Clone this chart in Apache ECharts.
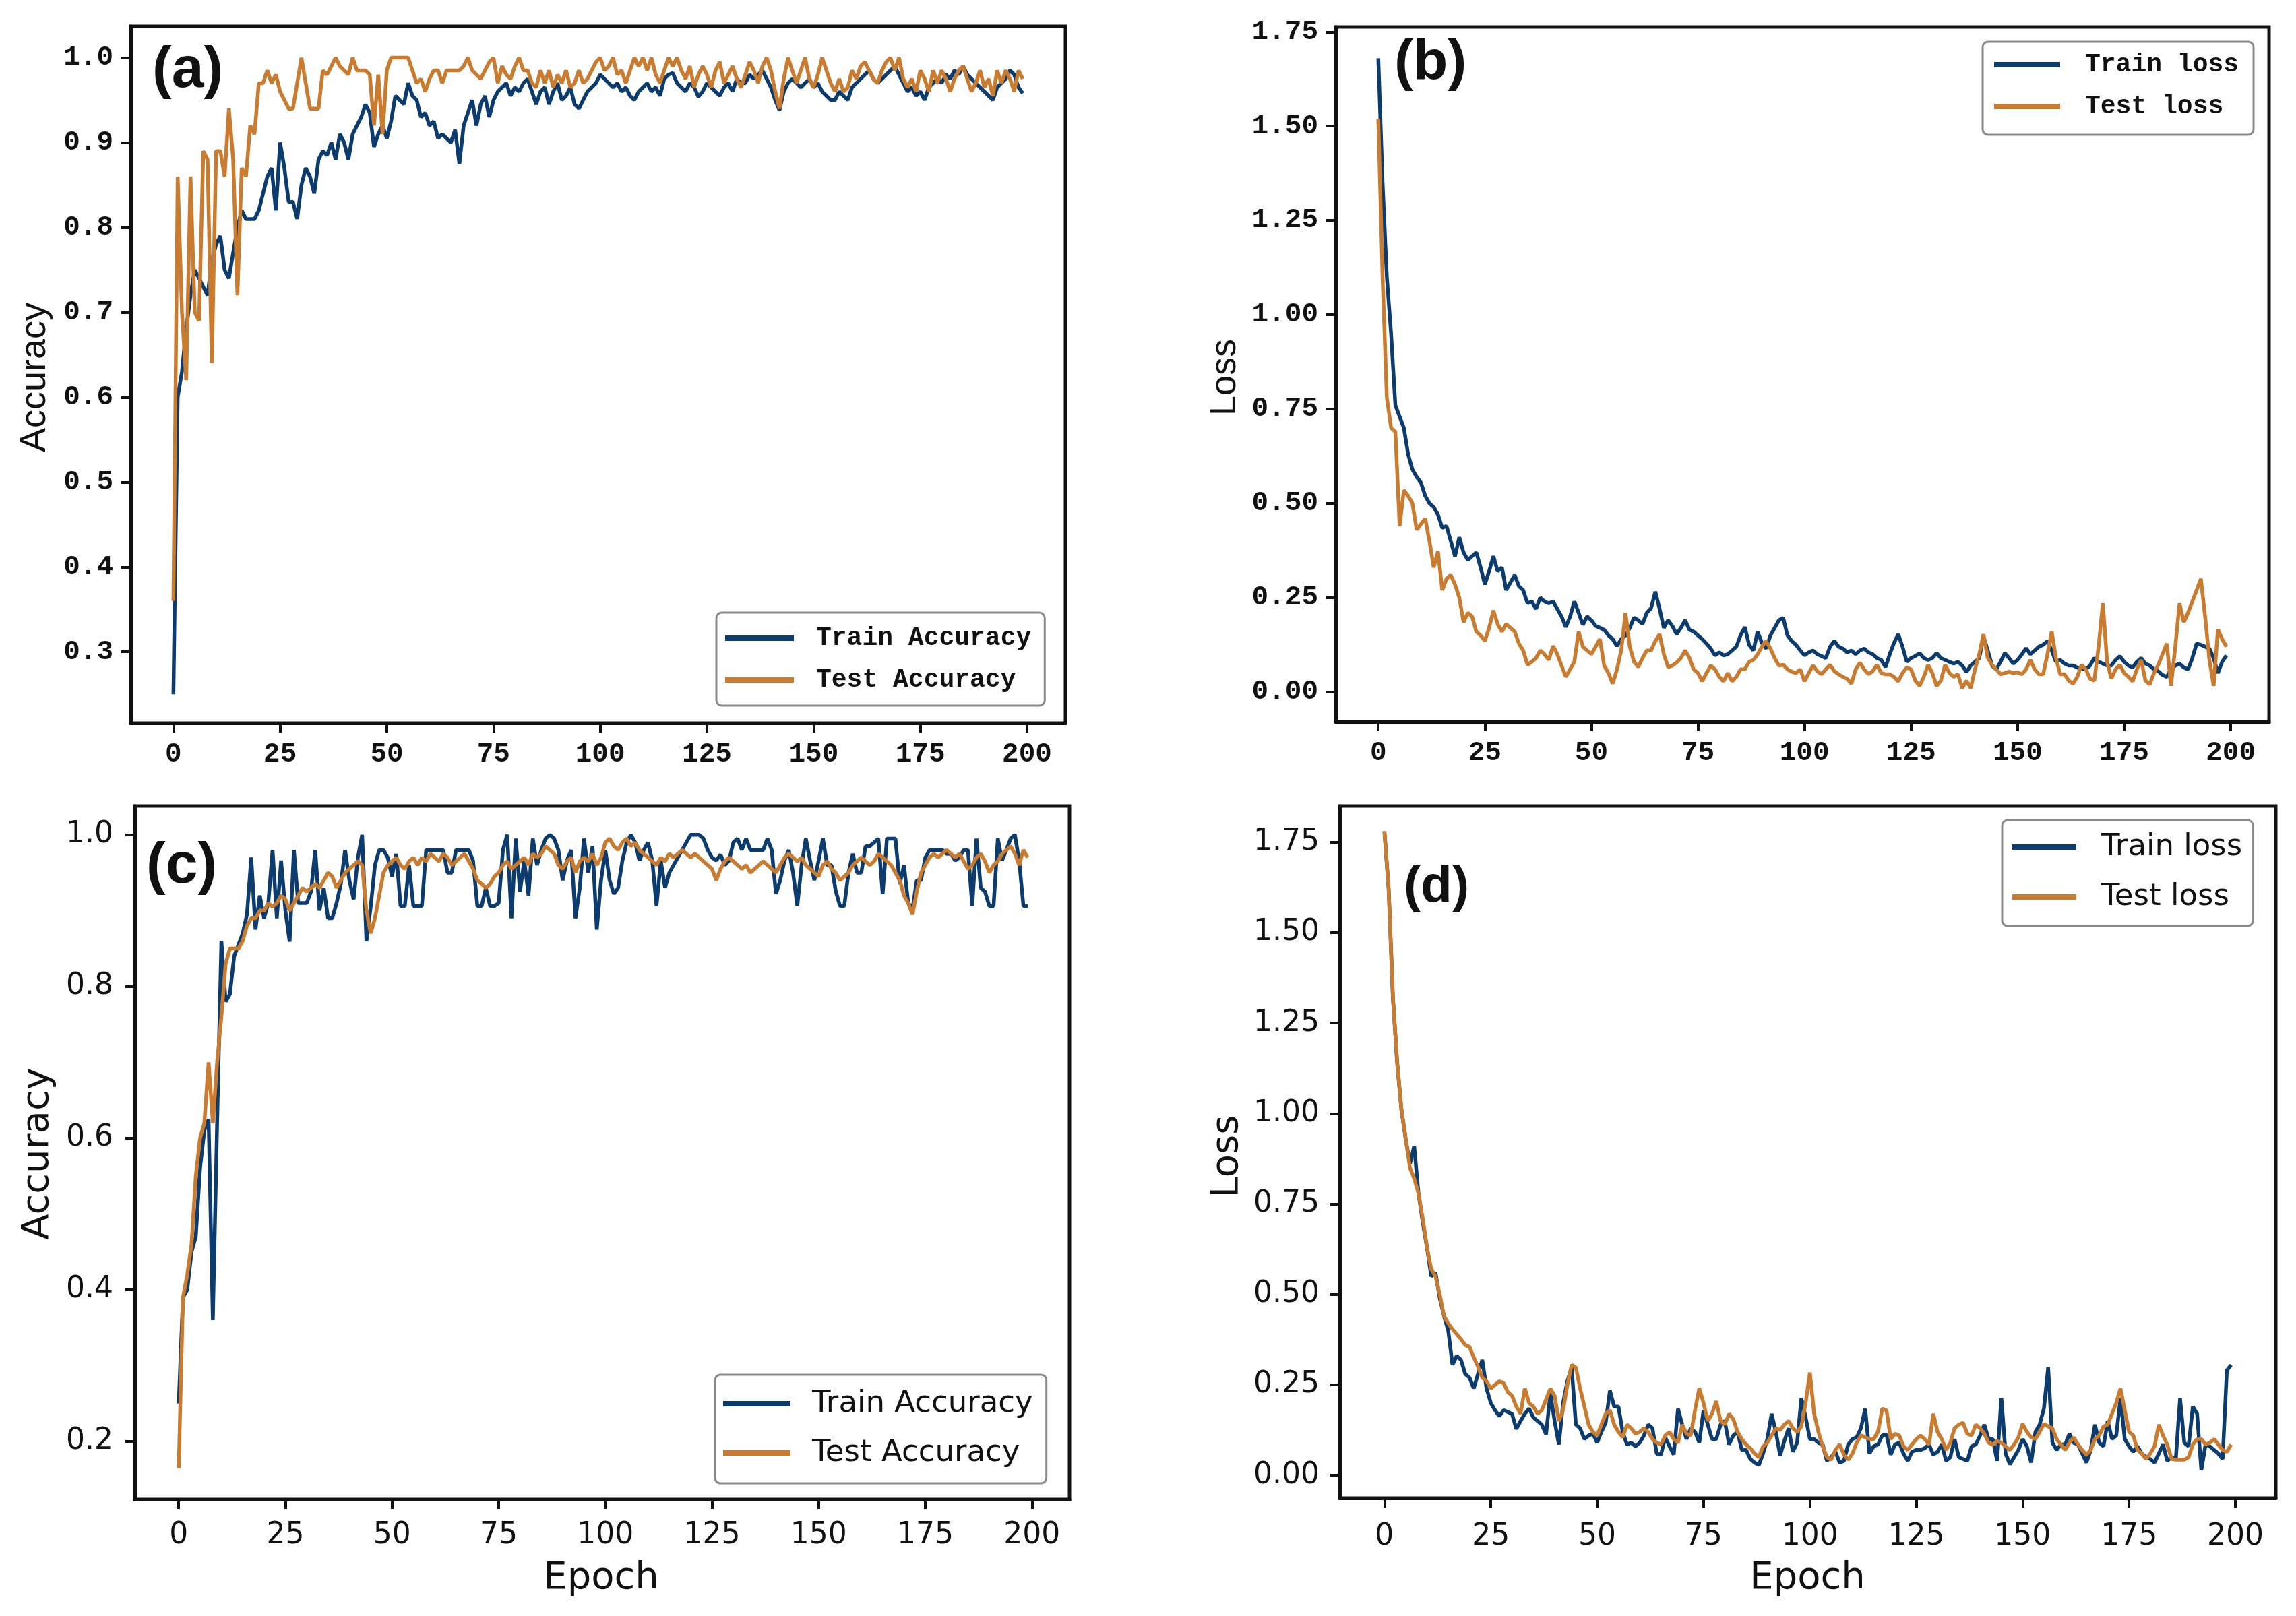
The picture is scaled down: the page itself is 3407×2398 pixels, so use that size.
<!DOCTYPE html>
<html>
<head>
<meta charset="utf-8">
<script src="https://cdn.jsdelivr.net/npm/echarts@6/dist/echarts.min.js"></script>
<style>
    html, body { margin: 0; padding: 0; background: #fff; }
    #chart { width: 3407px; height: 2398px; }
</style>
</head>
<body>
<div id="chart"></div>
<script>
// tick values
const xTicks = [0, 25, 50, 75, 100, 125, 150, 175, 200];
const accTicksA = [0.3, 0.4, 0.5, 0.6, 0.7, 0.8, 0.9, 1.0];
const accTicksC = [0.2, 0.4, 0.6, 0.8, 1.0];
const lossTicks = [0, 0.25, 0.5, 0.75, 1.0, 1.25, 1.5, 1.75];

// (a) accuracy, epochs 0..199
const trainAccA = [
    0.25, 0.60, 0.63, 0.68, 0.72, 0.75, 0.74, 0.73, 0.72, 0.76, 0.78, 0.79, 0.75, 0.74, 0.77, 0.80, 0.82, 0.81, 0.81, 0.81,
    0.82, 0.84, 0.86, 0.87, 0.82, 0.90, 0.87, 0.83, 0.83, 0.81, 0.85, 0.87, 0.86, 0.84, 0.88, 0.89, 0.885, 0.90, 0.88, 0.91,
    0.90, 0.88, 0.91, 0.92, 0.93, 0.945, 0.935, 0.895, 0.91, 0.92, 0.905, 0.925, 0.955, 0.95, 0.945, 0.97, 0.955, 0.95, 0.93, 0.935,
    0.92, 0.925, 0.905, 0.91, 0.905, 0.90, 0.915, 0.875, 0.92, 0.935, 0.95, 0.92, 0.945, 0.955, 0.93, 0.95, 0.96, 0.965, 0.97, 0.955,
    0.965, 0.96, 0.97, 0.975, 0.96, 0.945, 0.96, 0.965, 0.945, 0.96, 0.97, 0.95, 0.955, 0.965, 0.945, 0.94, 0.95, 0.96, 0.965, 0.97,
    0.98, 0.975, 0.97, 0.965, 0.97, 0.96, 0.965, 0.955, 0.95, 0.96, 0.965, 0.97, 0.96, 0.965, 0.955, 0.975, 0.98, 0.982, 0.97, 0.965,
    0.96, 0.97, 0.965, 0.954, 0.96, 0.97, 0.965, 0.96, 0.955, 0.965, 0.97, 0.96, 0.975, 0.97, 0.97, 0.98, 0.975, 0.98, 0.985, 0.975,
    0.965, 0.95, 0.938, 0.96, 0.97, 0.975, 0.97, 0.965, 0.97, 0.975, 0.965, 0.97, 0.96, 0.955, 0.95, 0.95, 0.96, 0.955, 0.95, 0.965,
    0.97, 0.975, 0.98, 0.985, 0.975, 0.97, 0.975, 0.98, 0.985, 0.99, 0.98, 0.97, 0.96, 0.965, 0.955, 0.96, 0.95, 0.965, 0.97, 0.975,
    0.97, 0.98, 0.975, 0.985, 0.98, 0.99, 0.98, 0.975, 0.97, 0.965, 0.96, 0.955, 0.95, 0.965, 0.97, 0.975, 0.985, 0.98, 0.965, 0.958,
];
const testAccA = [
    0.36, 0.86, 0.70, 0.62, 0.86, 0.70, 0.69, 0.89, 0.88, 0.64, 0.89, 0.89, 0.86, 0.94, 0.88, 0.72, 0.87, 0.86, 0.92, 0.91,
    0.97, 0.97, 0.985, 0.97, 0.98, 0.96, 0.95, 0.94, 0.94, 0.97, 1.0, 0.97, 0.94, 0.94, 0.94, 0.985, 0.98, 0.99, 1.0, 0.99,
    0.985, 0.98, 1.0, 0.985, 0.985, 0.985, 0.98, 0.92, 0.98, 0.91, 0.985, 1.0, 1.0, 1.0, 1.0, 1.0, 0.985, 0.97, 0.975, 0.96,
    0.975, 0.985, 0.985, 0.97, 0.985, 0.985, 0.985, 0.985, 0.99, 1.0, 0.985, 0.98, 0.975, 0.985, 0.995, 1.0, 0.97, 0.99, 0.98, 0.975,
    0.99, 1.0, 0.985, 0.985, 0.97, 0.965, 0.985, 0.97, 0.985, 0.965, 0.98, 0.97, 0.985, 0.965, 0.97, 0.985, 0.97, 0.975, 0.985, 0.995,
    1.0, 0.985, 0.99, 1.0, 0.98, 0.985, 0.97, 0.985, 1.0, 0.99, 1.0, 0.985, 1.0, 0.98, 0.97, 0.985, 1.0, 0.99, 1.0, 0.985,
    0.975, 0.99, 0.965, 0.98, 0.99, 0.98, 0.965, 0.985, 0.995, 0.97, 0.98, 0.99, 0.975, 0.965, 0.98, 0.995, 0.985, 0.97, 0.99, 1.0,
    0.985, 0.96, 0.94, 0.975, 1.0, 0.985, 0.97, 0.985, 1.0, 0.975, 0.965, 0.98, 1.0, 0.985, 0.97, 0.96, 0.975, 0.96, 0.965, 0.985,
    0.975, 0.99, 0.995, 0.985, 0.975, 0.97, 0.985, 0.995, 1.0, 0.985, 1.0, 0.975, 0.965, 0.975, 0.96, 0.985, 0.975, 0.96, 0.985, 0.97,
    0.985, 0.975, 0.96, 0.975, 0.985, 0.99, 0.975, 0.96, 0.97, 0.985, 0.965, 0.975, 0.955, 0.985, 0.97, 0.985, 0.975, 0.96, 0.985, 0.975,
];

// (b) loss
const trainLossB = [
    1.68, 1.35, 1.10, 0.95, 0.76, 0.73, 0.70, 0.63, 0.59, 0.57, 0.555, 0.52, 0.50, 0.49, 0.47, 0.435, 0.44, 0.40, 0.36, 0.41,
    0.37, 0.35, 0.36, 0.37, 0.33, 0.285, 0.32, 0.36, 0.32, 0.33, 0.27, 0.29, 0.31, 0.28, 0.27, 0.235, 0.24, 0.22, 0.25, 0.24,
    0.235, 0.24, 0.22, 0.20, 0.172, 0.20, 0.24, 0.21, 0.178, 0.20, 0.19, 0.175, 0.17, 0.165, 0.15, 0.14, 0.122, 0.14, 0.15, 0.17,
    0.197, 0.19, 0.18, 0.21, 0.222, 0.266, 0.22, 0.17, 0.19, 0.175, 0.153, 0.17, 0.19, 0.165, 0.16, 0.15, 0.14, 0.128, 0.115, 0.097,
    0.105, 0.097, 0.10, 0.11, 0.12, 0.15, 0.172, 0.125, 0.11, 0.16, 0.13, 0.115, 0.15, 0.17, 0.19, 0.197, 0.15, 0.135, 0.125, 0.11,
    0.097, 0.105, 0.11, 0.10, 0.095, 0.09, 0.12, 0.135, 0.12, 0.115, 0.105, 0.11, 0.10, 0.11, 0.115, 0.105, 0.10, 0.09, 0.085, 0.066,
    0.10, 0.13, 0.153, 0.12, 0.08, 0.09, 0.095, 0.103, 0.09, 0.085, 0.09, 0.103, 0.09, 0.085, 0.08, 0.075, 0.08, 0.07, 0.053, 0.07,
    0.08, 0.09, 0.147, 0.11, 0.07, 0.06, 0.08, 0.103, 0.09, 0.075, 0.085, 0.10, 0.116, 0.10, 0.11, 0.12, 0.125, 0.135, 0.11, 0.08,
    0.085, 0.075, 0.07, 0.07, 0.065, 0.06, 0.06, 0.07, 0.09, 0.08, 0.075, 0.07, 0.07, 0.085, 0.095, 0.08, 0.07, 0.065, 0.08, 0.09,
    0.075, 0.07, 0.06, 0.055, 0.045, 0.04, 0.06, 0.07, 0.075, 0.065, 0.06, 0.09, 0.128, 0.125, 0.12, 0.115, 0.09, 0.05, 0.08, 0.097,
];
const testLossB = [
    1.52, 1.10, 0.78, 0.70, 0.69, 0.44, 0.535, 0.52, 0.50, 0.43, 0.445, 0.46, 0.40, 0.33, 0.373, 0.27, 0.30, 0.31, 0.285, 0.25,
    0.185, 0.21, 0.20, 0.16, 0.15, 0.135, 0.17, 0.216, 0.18, 0.16, 0.18, 0.17, 0.16, 0.128, 0.11, 0.072, 0.08, 0.09, 0.11, 0.10,
    0.085, 0.122, 0.10, 0.07, 0.04, 0.06, 0.08, 0.16, 0.12, 0.11, 0.10, 0.12, 0.14, 0.07, 0.05, 0.022, 0.06, 0.11, 0.21, 0.12,
    0.08, 0.066, 0.09, 0.11, 0.11, 0.135, 0.153, 0.10, 0.066, 0.07, 0.078, 0.09, 0.11, 0.09, 0.06, 0.05, 0.028, 0.05, 0.07, 0.06,
    0.04, 0.028, 0.05, 0.028, 0.04, 0.06, 0.06, 0.08, 0.085, 0.10, 0.12, 0.135, 0.115, 0.09, 0.07, 0.072, 0.06, 0.054, 0.05, 0.06,
    0.028, 0.05, 0.07, 0.055, 0.047, 0.06, 0.072, 0.055, 0.047, 0.04, 0.035, 0.022, 0.06, 0.078, 0.06, 0.047, 0.055, 0.072, 0.05, 0.047,
    0.047, 0.04, 0.028, 0.05, 0.065, 0.06, 0.03, 0.016, 0.04, 0.072, 0.05, 0.016, 0.03, 0.072, 0.05, 0.04, 0.047, 0.01, 0.03, 0.01,
    0.06, 0.10, 0.153, 0.09, 0.072, 0.06, 0.047, 0.05, 0.054, 0.05, 0.052, 0.047, 0.06, 0.085, 0.06, 0.047, 0.047, 0.10, 0.16, 0.09,
    0.047, 0.047, 0.03, 0.022, 0.04, 0.072, 0.06, 0.035, 0.03, 0.12, 0.235, 0.08, 0.035, 0.06, 0.072, 0.05, 0.04, 0.028, 0.06, 0.085,
    0.03, 0.02, 0.05, 0.072, 0.10, 0.128, 0.016, 0.12, 0.235, 0.185, 0.21, 0.24, 0.27, 0.30, 0.20, 0.085, 0.016, 0.166, 0.14, 0.12,
];

// (c) accuracy
const trainAccC = [
    0.25, 0.39, 0.40, 0.45, 0.47, 0.56, 0.61, 0.625, 0.36, 0.62, 0.86, 0.78, 0.79, 0.84, 0.855, 0.87, 0.895, 0.97, 0.875, 0.92,
    0.89, 0.91, 0.98, 0.89, 0.966, 0.90, 0.859, 0.98, 0.91, 0.91, 0.91, 0.925, 0.98, 0.90, 0.93, 0.89, 0.89, 0.91, 0.935, 0.98,
    0.94, 0.915, 0.97, 1.0, 0.86, 0.905, 0.96, 0.98, 0.98, 0.97, 0.945, 0.975, 0.906, 0.906, 0.96, 0.906, 0.906, 0.906, 0.98, 0.98,
    0.98, 0.98, 0.98, 0.95, 0.95, 0.98, 0.98, 0.98, 0.98, 0.966, 0.906, 0.906, 0.93, 0.906, 0.906, 0.91, 0.98, 1.0, 0.89, 0.995,
    0.925, 0.966, 0.92, 0.995, 0.96, 0.98, 0.995, 1.0, 0.995, 0.98, 0.94, 0.966, 0.98, 0.89, 0.93, 0.995, 0.95, 0.985, 0.875, 0.94,
    0.98, 0.94, 0.922, 0.93, 0.966, 0.99, 1.0, 0.99, 0.966, 0.98, 0.99, 0.966, 0.906, 0.966, 0.93, 0.95, 0.96, 0.97, 0.98, 0.99,
    1.0, 1.0, 1.0, 0.995, 0.98, 0.97, 0.966, 0.974, 0.96, 0.966, 0.99, 0.995, 0.98, 0.995, 0.98, 0.98, 0.98, 0.98, 0.995, 0.98,
    0.922, 0.94, 0.966, 0.98, 0.95, 0.906, 0.96, 0.995, 0.966, 0.94, 0.966, 0.995, 0.96, 0.96, 0.926, 0.906, 0.906, 0.95, 0.975, 0.95,
    0.95, 0.985, 0.985, 0.99, 0.995, 0.922, 0.995, 0.995, 0.995, 0.935, 0.96, 0.91, 0.902, 0.94, 0.94, 0.97, 0.98, 0.98, 0.98, 0.98,
    0.975, 0.975, 0.966, 0.97, 0.98, 0.98, 0.906, 0.995, 0.93, 0.925, 0.906, 0.906, 0.995, 0.966, 0.98, 0.995, 1.0, 0.966, 0.906, 0.906,
];
const testAccC = [
    0.165, 0.39, 0.42, 0.46, 0.55, 0.60, 0.62, 0.70, 0.62, 0.70, 0.76, 0.83, 0.85, 0.85, 0.85, 0.86, 0.88, 0.89, 0.89, 0.90,
    0.90, 0.91, 0.905, 0.91, 0.92, 0.915, 0.90, 0.91, 0.92, 0.93, 0.925, 0.93, 0.935, 0.93, 0.94, 0.95, 0.945, 0.93, 0.94, 0.95,
    0.955, 0.96, 0.965, 0.96, 0.90, 0.87, 0.89, 0.92, 0.95, 0.96, 0.965, 0.97, 0.96, 0.955, 0.965, 0.97, 0.96, 0.97, 0.965, 0.975,
    0.97, 0.965, 0.975, 0.97, 0.96, 0.965, 0.97, 0.975, 0.965, 0.955, 0.94, 0.935, 0.93, 0.935, 0.945, 0.95, 0.96, 0.965, 0.955, 0.96,
    0.965, 0.97, 0.96, 0.975, 0.97, 0.975, 0.985, 0.98, 0.975, 0.96, 0.955, 0.965, 0.97, 0.95, 0.965, 0.97, 0.965, 0.975, 0.96, 0.97,
    0.99, 0.995, 0.985, 0.98, 0.99, 0.995, 0.985, 0.99, 0.98, 0.975, 0.97, 0.965, 0.96, 0.97, 0.965, 0.975, 0.97, 0.975, 0.98, 0.975,
    0.97, 0.975, 0.97, 0.965, 0.96, 0.955, 0.94, 0.955, 0.965, 0.97, 0.965, 0.96, 0.955, 0.96, 0.95, 0.955, 0.96, 0.965, 0.96, 0.955,
    0.95, 0.96, 0.97, 0.975, 0.97, 0.965, 0.97, 0.96, 0.955, 0.95, 0.945, 0.96, 0.965, 0.955, 0.95, 0.94, 0.945, 0.95, 0.96, 0.965,
    0.97, 0.965, 0.96, 0.965, 0.975, 0.97, 0.965, 0.96, 0.95, 0.94, 0.92, 0.91, 0.895, 0.925, 0.95, 0.96, 0.97, 0.975, 0.97, 0.975,
    0.98, 0.975, 0.97, 0.975, 0.965, 0.955, 0.96, 0.97, 0.975, 0.965, 0.95, 0.96, 0.965, 0.975, 0.98, 0.985, 0.975, 0.96, 0.98, 0.97,
];

// (d) loss
const trainLossD = [
    1.78, 1.62, 1.32, 1.14, 1.01, 0.93, 0.86, 0.91, 0.78, 0.70, 0.63, 0.55, 0.56, 0.49, 0.44, 0.40, 0.305, 0.33, 0.319, 0.28,
    0.27, 0.24, 0.28, 0.319, 0.24, 0.20, 0.18, 0.163, 0.18, 0.175, 0.17, 0.128, 0.15, 0.17, 0.185, 0.16, 0.15, 0.14, 0.113, 0.227,
    0.15, 0.085, 0.20, 0.26, 0.298, 0.14, 0.13, 0.10, 0.11, 0.115, 0.09, 0.12, 0.145, 0.234, 0.19, 0.19, 0.12, 0.085, 0.09, 0.08,
    0.09, 0.11, 0.14, 0.13, 0.06, 0.057, 0.105, 0.08, 0.057, 0.184, 0.14, 0.10, 0.13, 0.12, 0.09, 0.18, 0.14, 0.10, 0.10, 0.14,
    0.15, 0.085, 0.11, 0.12, 0.07, 0.07, 0.045, 0.035, 0.028, 0.06, 0.10, 0.17, 0.12, 0.055, 0.095, 0.13, 0.065, 0.09, 0.213, 0.16,
    0.10, 0.10, 0.09, 0.085, 0.04, 0.05, 0.065, 0.035, 0.04, 0.085, 0.10, 0.105, 0.13, 0.184, 0.06, 0.08, 0.085, 0.11, 0.113, 0.057,
    0.085, 0.09, 0.06, 0.04, 0.065, 0.07, 0.07, 0.075, 0.085, 0.057, 0.065, 0.085, 0.04, 0.05, 0.10, 0.05, 0.045, 0.04, 0.08, 0.085,
    0.11, 0.14, 0.10, 0.10, 0.04, 0.213, 0.06, 0.03, 0.05, 0.07, 0.10, 0.08, 0.035, 0.12, 0.14, 0.185, 0.298, 0.09, 0.07, 0.085,
    0.085, 0.115, 0.09, 0.085, 0.06, 0.035, 0.07, 0.14, 0.09, 0.08, 0.15, 0.10, 0.11, 0.213, 0.10, 0.08, 0.065, 0.08, 0.06, 0.05,
    0.045, 0.035, 0.06, 0.085, 0.04, 0.05, 0.045, 0.213, 0.09, 0.08, 0.19, 0.17, 0.014, 0.085, 0.08, 0.07, 0.06, 0.045, 0.29, 0.305,
];
const testLossD = [
    1.78, 1.62, 1.32, 1.14, 1.01, 0.93, 0.85, 0.82, 0.78, 0.71, 0.63, 0.57, 0.55, 0.50, 0.44, 0.42, 0.404, 0.39, 0.376, 0.36,
    0.355, 0.326, 0.30, 0.27, 0.26, 0.24, 0.25, 0.26, 0.255, 0.23, 0.22, 0.19, 0.17, 0.24, 0.20, 0.19, 0.17, 0.18, 0.21, 0.24,
    0.22, 0.15, 0.18, 0.25, 0.305, 0.298, 0.24, 0.19, 0.14, 0.12, 0.11, 0.14, 0.17, 0.18, 0.14, 0.12, 0.105, 0.14, 0.13, 0.115,
    0.12, 0.13, 0.12, 0.10, 0.09, 0.085, 0.11, 0.12, 0.10, 0.09, 0.14, 0.115, 0.11, 0.18, 0.24, 0.20, 0.15, 0.17, 0.205, 0.15,
    0.14, 0.17, 0.155, 0.12, 0.10, 0.085, 0.075, 0.06, 0.05, 0.08, 0.09, 0.11, 0.13, 0.125, 0.14, 0.15, 0.13, 0.12, 0.135, 0.20,
    0.284, 0.17, 0.12, 0.08, 0.05, 0.043, 0.07, 0.085, 0.057, 0.043, 0.06, 0.09, 0.11, 0.105, 0.10, 0.10, 0.12, 0.184, 0.18, 0.10,
    0.115, 0.11, 0.08, 0.07, 0.085, 0.10, 0.11, 0.10, 0.085, 0.17, 0.12, 0.10, 0.07, 0.09, 0.13, 0.14, 0.145, 0.115, 0.11, 0.14,
    0.13, 0.115, 0.09, 0.085, 0.095, 0.09, 0.08, 0.07, 0.085, 0.105, 0.142, 0.12, 0.105, 0.10, 0.12, 0.142, 0.135, 0.13, 0.10, 0.085,
    0.07, 0.09, 0.105, 0.085, 0.07, 0.057, 0.07, 0.10, 0.11, 0.135, 0.14, 0.17, 0.20, 0.24, 0.18, 0.12, 0.11, 0.07, 0.06, 0.045,
    0.06, 0.08, 0.14, 0.11, 0.085, 0.045, 0.043, 0.043, 0.043, 0.05, 0.085, 0.10, 0.10, 0.085, 0.09, 0.10, 0.085, 0.07, 0.065, 0.085,
];

const INK = "#111";
const TRAIN = "#0c3b6e";
const TEST = "#c97b30";
const MONO = "Liberation Mono";
const DV = "DejaVu Sans";

function gridAt(left, top, width, height) {
    return {
        left, top, width, height,
        show: true,
        borderColor: INK,
        borderWidth: 5,
        backgroundColor: "transparent",
        outerBoundsMode: "none",
    };
}

function xAxisFor(idx, min, max, font, size, weight, margin) {
    return {
        type: "value",
        gridIndex: idx,
        min, max,
        axisLine: { show: true, onZero: false, lineStyle: { color: INK, width: 5 } },
        axisTick: { show: true, customValues: xTicks, length: 14, lineStyle: { color: INK, width: 4 } },
        axisLabel: { customValues: xTicks, margin, fontFamily: font, fontSize: size, fontWeight: weight, color: INK },
        splitLine: { show: false },
    };
}

function yAxisFor(idx, min, max, ticks, digits, font, size, weight, margin) {
    return {
        type: "value",
        gridIndex: idx,
        min, max,
        axisLine: { show: true, onZero: false, lineStyle: { color: INK, width: 5 } },
        axisTick: { show: true, customValues: ticks, length: 14, lineStyle: { color: INK, width: 4 } },
        axisLabel: {
            customValues: ticks,
            margin,
            fontFamily: font,
            fontSize: size,
            fontWeight: weight,
            color: INK,
            formatter: (v) => Number(v).toFixed(digits),
        },
        splitLine: { show: false },
    };
}

function lineSeries(name, idx, values, color) {
    return {
        name,
        type: "line",
        xAxisIndex: idx,
        yAxisIndex: idx,
        data: values.map((v, i) => [i, v]),
        showSymbol: false,
        symbol: "none",
        lineStyle: { color, width: 5.5 },
        itemStyle: { color },
        animation: false,
    };
}

function legendAt(left, top, names, opts) {
    return {
        left, top,
        orient: "vertical",
        data: names,
        icon: "rect",
        itemWidth: opts.lineW,
        itemHeight: 8,
        itemGap: opts.gap,
        padding: opts.pad,
        borderColor: "#8a8a8a",
        borderWidth: 3,
        borderRadius: 8,
        backgroundColor: "#fff",
        textStyle: {
            fontFamily: opts.font,
            fontSize: opts.size,
            fontWeight: opts.weight,
            lineHeight: opts.lh,
            color: INK,
            padding: [0, 0, 0, opts.textPad],
        },
    };
}

// align: "left" | "center"; rotate: bottom-to-top
function label(text, x, y, font, align, rotate) {
    return {
        type: "text",
        x, y,
        rotation: rotate ? Math.PI / 2 : 0,
        style: {
            text, x: 0, y: 0, font, fill: INK,
            align,
            verticalAlign: "middle",
            textAlign: align,
            textVerticalAlign: "middle",
        },
    };
}

const chart = echarts.init(document.getElementById("chart"));

chart.setOption({
    backgroundColor: "#fff",
    animation: false,
    grid: [
        gridAt(194, 39, 1387, 1034),
        gridAt(1982, 40, 1385, 1031),
        gridAt(200, 1196, 1387, 1029),
        gridAt(1988, 1196, 1389, 1027),
    ],
    xAxis: [
        xAxisFor(0, -10, 209, MONO, 41, "bold", 26),
        xAxisFor(1, -10, 209, MONO, 41, "bold", 26),
        xAxisFor(2, -10.3, 208.8, DV, 44, "normal", 32),
        xAxisFor(3, -10.5, 209.5, DV, 44, "normal", 36),
    ],
    yAxis: [
        yAxisFor(0, 0.216, 1.037, accTicksA, 1, MONO, 41, "bold", 26),
        yAxisFor(1, -0.079, 1.763, lossTicks, 2, MONO, 41, "bold", 26),
        yAxisFor(2, 0.1236, 1.038, accTicksC, 1, DV, 44, "normal", 32),
        yAxisFor(3, -0.063, 1.85, lossTicks, 2, DV, 44, "normal", 30),
    ],
    legend: [
        legendAt(1063, 909, ["Train Accuracy", "Test Accuracy"],
            { lineW: 102, gap: 22, pad: [18, 20, 18, 13], font: MONO, size: 38, weight: "bold", lh: 40, textPad: 28 }),
        legendAt(2942, 62, ["Train loss", "Test loss"],
            { lineW: 98, gap: 22, pad: [14, 22, 22, 17], font: MONO, size: 38, weight: "bold", lh: 40, textPad: 32 }),
        legendAt(1061, 2040, ["Train Accuracy", "Test Accuracy"],
            { lineW: 100, gap: 23, pad: [18, 20, 20, 12], font: DV, size: 45, weight: "normal", lh: 50, textPad: 27 }),
        legendAt(2971, 1217, ["Train loss", "Test loss"],
            { lineW: 95, gap: 24, pad: [15, 16, 18, 15], font: DV, size: 45, weight: "normal", lh: 50, textPad: 32 }),
    ],
    graphic: [
        label("(a)", 226, 105, 'bold 86px "Liberation Sans"', "left"),
        label("(b)", 2069, 95, 'bold 84px "Liberation Sans"', "left"),
        label("(c)", 217, 1286, 'bold 86px "Liberation Sans"', "left"),
        label("(d)", 2083, 1317, 'bold 76px "Liberation Sans"', "left"),
        label("Accuracy", 52, 560, '54px "Liberation Sans"', "center", true),
        label("Loss", 1818, 560, '54px "Liberation Sans"', "center", true),
        label("Accuracy", 56, 1712, '56px "DejaVu Sans"', "center", true),
        label("Loss", 1821, 1716, '56px "DejaVu Sans"', "center", true),
        label("Epoch", 892, 2342, '56px "DejaVu Sans"', "center"),
        label("Epoch", 2682, 2342, '56px "DejaVu Sans"', "center"),
    ],
    series: [
        lineSeries("Train Accuracy", 0, trainAccA, TRAIN),
        lineSeries("Test Accuracy", 0, testAccA, TEST),
        lineSeries("Train loss", 1, trainLossB, TRAIN),
        lineSeries("Test loss", 1, testLossB, TEST),
        lineSeries("Train Accuracy", 2, trainAccC, TRAIN),
        lineSeries("Test Accuracy", 2, testAccC, TEST),
        lineSeries("Train loss", 3, trainLossD, TRAIN),
        lineSeries("Test loss", 3, testLossD, TEST),
    ],
});
</script>
</body>
</html>
